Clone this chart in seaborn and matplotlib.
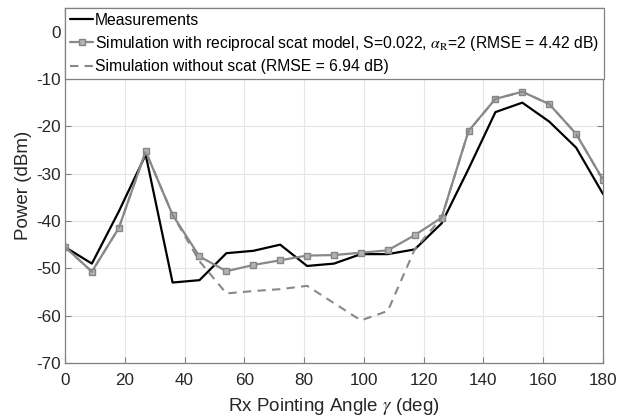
import numpy as np
import pandas as pd
import matplotlib
matplotlib.use("Agg")
import matplotlib.pyplot as plt
import seaborn as sns

angles = [0, 9, 18, 27, 36, 45, 54, 63, 72, 81, 90, 99, 108, 117, 126, 135, 144, 153, 162, 171, 180]
measurements = [-45.5, -49.0, -38.0, -26.0, -53.0, -52.5, -46.8, -46.3, -45.0, -49.5, -49.0,
                -47.0, -47.0, -46.0, -40.5, -29.0, -17.0, -15.0, -19.0, -24.5, -34.3]
sim_scat = [-45.5, -50.7, -41.5, -25.3, -38.7, -47.5, -50.6, -49.3, -48.3, -47.3, -47.2,
            -46.7, -46.2, -43.0, -39.3, -21.0, -14.2, -12.7, -15.3, -21.6, -31.3]
angles_noscat = [0, 9, 18, 27, 36, 45, 54, 63, 72, 81, 99, 108, 117, 126, 135, 144, 153, 162, 171, 180]
sim_noscat = [-45.5, -50.7, -41.5, -25.3, -38.7, -48.5, -55.3, -54.8, -54.4, -53.7,
              -61.0, -59.0, -46.0, -39.3, -21.0, -14.2, -12.7, -15.3, -21.6, -31.3]

lab_meas = "Measurements"
lab_scat = r"Simulation with reciprocal scat model, S=0.022, $\alpha_\mathrm{R}$=2 (RMSE = 4.42 dB)"
lab_noscat = "Simulation without scat (RMSE = 6.94 dB)"

sns.set_theme(style="whitegrid")
plt.rcParams['font.family'] = ['Liberation Sans', 'DejaVu Sans']
plt.rcParams['mathtext.fontset'] = 'stix'
plt.rcParams['mathtext.rm'] = 'Liberation Sans'
plt.rcParams['axes.unicode_minus'] = False

df1 = pd.DataFrame({"x": angles, "y": measurements})
df2 = pd.DataFrame({"x": angles, "y": sim_scat})
df3 = pd.DataFrame({"x": angles_noscat, "y": sim_noscat})

fig = plt.figure(figsize=(6.29, 4.20), dpi=100)
ax = fig.add_axes([0.1033, 0.1357, 0.8554, 0.8453])
ax.set_facecolor("white")

sns.lineplot(data=df1, x="x", y="y", ax=ax, color="black", linewidth=1.6, label=lab_meas)
sns.lineplot(data=df2, x="x", y="y", ax=ax, color="#888888", linewidth=1.6, marker="s",
             markersize=5, markerfacecolor="#b3b3b3", markeredgecolor="#858585",
             markeredgewidth=1.0, label=lab_scat)
sns.lineplot(data=df3, x="x", y="y", ax=ax, color="#888888", linewidth=1.5,
             linestyle=(0, (4, 3)), label=lab_noscat)

ax.set_xlim(0, 180)
ax.set_ylim(-70, 5)
ax.set_xticks(np.arange(0, 181, 20))
ax.set_yticks(np.arange(-70, 1, 10))
ax.grid(True, color="#e6e6e6", linewidth=0.8)
for s in ax.spines.values():
    s.set_visible(True)
    s.set_color("#808080")
    s.set_linewidth(0.9)
ax.tick_params(axis="both", which="both", direction="in", length=4, width=0.8,
               color="#808080", labelsize=12.3, labelcolor="#262626",
               top=True, right=True, bottom=True, left=True)
ax.tick_params(axis="x", pad=7)
ax.tick_params(axis="y", pad=3)
ax.set_xlabel(r"Rx Pointing Angle $\gamma$ (deg)", fontsize=13.5, color="#262626", labelpad=6)
ax.set_ylabel("Power (dBm)", fontsize=13.5, color="#262626", labelpad=3)

leg = ax.legend(loc="upper left", bbox_to_anchor=(0, 1), borderaxespad=0, fontsize=11.35,
                frameon=True, fancybox=False, framealpha=1, edgecolor="#808080",
                handlelength=1.5, handletextpad=0.1, labelspacing=0.4, borderpad=0.3)
leg.get_frame().set_linewidth(0.9)
for t in leg.get_texts():
    t.set_color("#000000")

fig.savefig("out.png", dpi=100)
